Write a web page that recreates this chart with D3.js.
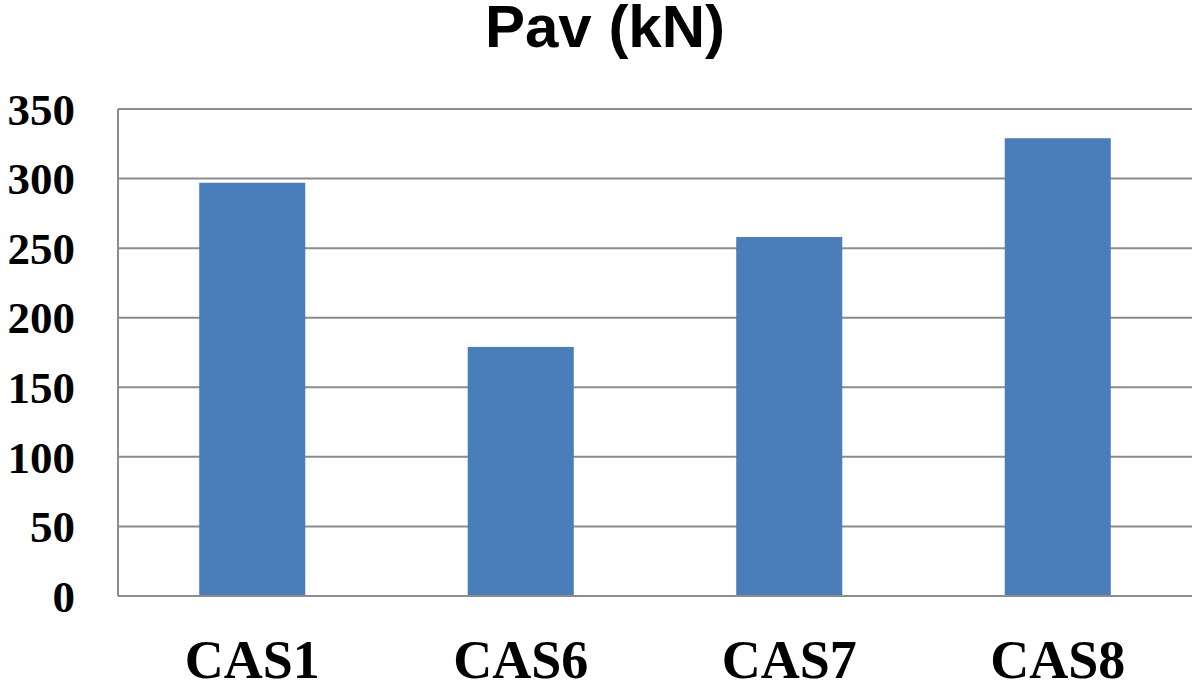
<!DOCTYPE html>
<html><head><meta charset="utf-8">
<script src="https://cdn.jsdelivr.net/npm/d3@7"></script>
<style>body{margin:0;background:#fff}svg{display:block}</style>
</head><body>
<script>
const categories = ["CAS1", "CAS6", "CAS7", "CAS8"];
const values = [297, 179, 258, 329];
const yTicks = [0, 50, 100, 150, 200, 250, 300, 350];
const title = "Pav (kN)";

const W = 1200, H = 683;
const svg = d3.select("body").append("svg").attr("width", W).attr("height", H);
const pLeft = 118, pRight = 1192, pTop = 109, pBottom = 596;

const x = d3.scaleBand().domain(categories).range([pLeft, pRight]).paddingInner(0.605).paddingOuter(0.3025);
const y = d3.scaleLinear().domain([0, 350]).range([pBottom, pTop]);

// gridlines
svg.append("g").selectAll("line").data(yTicks.filter(d => d > 0)).join("line")
  .attr("x1", pLeft).attr("x2", pRight)
  .attr("y1", d => y(d)).attr("y2", d => y(d))
  .attr("stroke", "#8c8c8c").attr("stroke-width", 2);

// bars
svg.append("g").selectAll("rect").data(values).join("rect")
  .attr("x", (d, i) => x(categories[i]))
  .attr("width", x.bandwidth())
  .attr("y", d => y(d))
  .attr("height", d => y(0) - y(d))
  .attr("fill", "#4a7ebb");

// axes lines
svg.append("line").attr("x1", pLeft).attr("x2", pLeft).attr("y1", pTop).attr("y2", pBottom)
  .attr("stroke", "#8c8c8c").attr("stroke-width", 2);
svg.append("line").attr("x1", pLeft).attr("x2", pRight).attr("y1", pBottom).attr("y2", pBottom)
  .attr("stroke", "#8c8c8c").attr("stroke-width", 2);

// y labels
svg.append("g").selectAll("text").data(yTicks).join("text")
  .attr("x", 75).attr("y", d => y(d)).attr("dy", "0.35em")
  .attr("text-anchor", "end")
  .attr("font-family", "'Liberation Serif', 'Times New Roman', serif")
  .attr("font-weight", "bold").attr("font-size", 45).attr("fill", "#000")
  .text(d => d);

// x labels
svg.append("g").selectAll("text").data(categories).join("text")
  .attr("x", d => x(d) + x.bandwidth() / 2).attr("y", 678)
  .attr("text-anchor", "middle")
  .attr("font-family", "'Liberation Serif', 'Times New Roman', serif")
  .attr("font-weight", "bold").attr("font-size", 54).attr("fill", "#000")
  .text(d => d);

// title
svg.append("text").attr("x", 605).attr("y", 47).attr("text-anchor", "middle")
  .attr("font-family", "'Liberation Sans', Arial, sans-serif")
  .attr("font-weight", "bold").attr("font-size", 60).attr("fill", "#000")
  .text(title);
</script>
</body></html>
